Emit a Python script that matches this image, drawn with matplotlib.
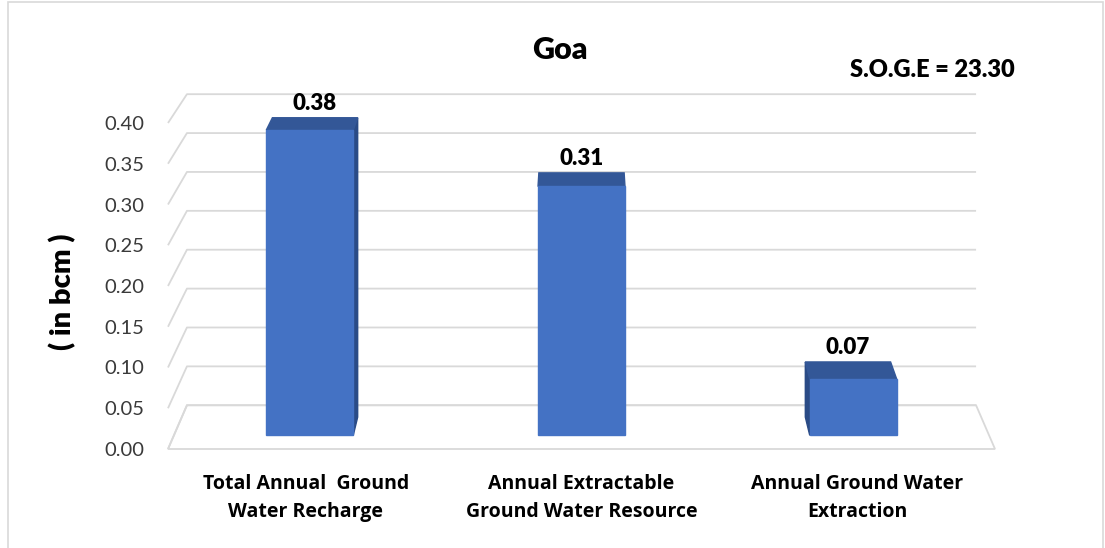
import matplotlib
matplotlib.use("Agg")
import matplotlib.pyplot as plt
from matplotlib.patches import Polygon, Rectangle
from matplotlib import font_manager

# ── data ────────────────────────────────────────────────────────────────────
categories = ["Total Annual  Ground\nWater Recharge",
              "Annual Extractable\nGround Water Resource",
              "Annual Ground Water\nExtraction"]
values = [0.38, 0.31, 0.07]
y_ticks = [0.00, 0.05, 0.10, 0.15, 0.20, 0.25, 0.30, 0.35, 0.40]
title = "Goa"
note = "S.O.G.E = 23.30"
y_label = "( in bcm )"

# ── fake 3-D (Excel style) perspective ──────────────────────────────────────
VX, VY, K = 1.0, 1.172, 0.048    # vanishing point (data units) and depth factor
D0, D1 = 0.30, 0.72              # depth span of the bars (0 = front, 1 = back wall)
BAR_W = 0.32

FRONT = "#4472C4"
TOP = "#335797"
SIDE = "#2A4B86"
GRID = "#D9D9D9"

names = {f.name for f in font_manager.fontManager.ttflist}
MAIN = "Lato" if "Lato" in names else "DejaVu Sans"
CAT = "Open Sans" if "Open Sans" in names else MAIN


def proj(c, v, d):
    s = 1.0 / (1.0 + K * d)
    return VX + s * (c - VX), VY + s * (v - VY)


W, H = 1105, 548
fig = plt.figure(figsize=(W / 100, H / 100), dpi=100)
ax = fig.add_axes([168 / W, (H - 449) / H, 827 / W, 0.44 * 815 / H])
ax.set_xlim(-0.5, 2.5)
ax.set_ylim(0, 0.44)
ax.set_facecolor("none")
for sp in ax.spines.values():
    sp.set_visible(False)

# side wall + back wall gridlines
x0, x1 = ax.get_xlim()
for v in y_ticks:
    pts = [proj(x0, v, 0), proj(x0, v, 1), proj(x1, v, 1)]
    ax.plot([p[0] for p in pts], [p[1] for p in pts], color=GRID, lw=1.3,
            clip_on=False, zorder=1, solid_capstyle="butt")

# floor
floor = [proj(x0, 0, 0), proj(x1, 0, 0), proj(x1, 0, 1), proj(x0, 0, 1)]
ax.add_patch(Polygon(floor, closed=True, fill=False, edgecolor=GRID, lw=1.3,
                     clip_on=False, zorder=1))

# bars
for i, v in enumerate(values):
    cl, cr = i - BAR_W / 2, i + BAR_W / 2
    if cr < VX:
        side = [proj(cr, 0, D0), proj(cr, v, D0), proj(cr, v, D1), proj(cr, 0, D1)]
        ax.add_patch(Polygon(side, color=SIDE, clip_on=False, zorder=2))
    elif cl > VX:
        side = [proj(cl, 0, D0), proj(cl, v, D0), proj(cl, v, D1), proj(cl, 0, D1)]
        ax.add_patch(Polygon(side, color=SIDE, clip_on=False, zorder=2))
    top = [proj(cl, v, D0), proj(cr, v, D0), proj(cr, v, D1), proj(cl, v, D1)]
    ax.add_patch(Polygon(top, color=TOP, clip_on=False, zorder=3))
    front = [proj(cl, 0, D0), proj(cr, 0, D0), proj(cr, v, D0), proj(cl, v, D0)]
    ax.add_patch(Polygon(front, color=FRONT, clip_on=False, zorder=4))
    lx, ly = proj(i, v, D1)
    ax.annotate(f"{v:.2f}", (lx, ly), xytext=(0, 5.5), textcoords="offset points",
                ha="center", va="baseline", fontsize=16, fontweight="heavy",
                family=MAIN, color="black")

# axes text
ax.set_yticks(y_ticks)
ax.set_yticklabels([f"{t:.2f}" for t in y_ticks], family=MAIN)
ax.tick_params(axis="y", length=0, pad=17, labelsize=14.5, labelcolor="#3A3A3A")
ax.set_xticks(range(len(categories)))
ax.set_xticklabels(categories, family=CAT, fontweight="bold", linespacing=1.55)
ax.tick_params(axis="x", length=0, pad=18, labelsize=14, labelcolor="black")

fig.text(63 / W, 1 - 292 / H, y_label, rotation=90, ha="center", va="center",
         fontsize=21, fontweight="heavy", family=MAIN)
fig.text(560 / W, 1 - 50 / H, title, ha="center", va="center",
         fontsize=22, fontweight="heavy", family=MAIN)
fig.text(932 / W, 1 - 70 / H, note, ha="center", va="center",
         fontsize=17, fontweight="heavy", family=MAIN)

# chart border
fig.patches.append(Rectangle((8 / W, -0.01), (W - 10) / W, 1 - 2 / H + 0.01,
                             transform=fig.transFigure, fill=False,
                             edgecolor=GRID, lw=1.2))

fig.savefig("out.png", dpi=100)
